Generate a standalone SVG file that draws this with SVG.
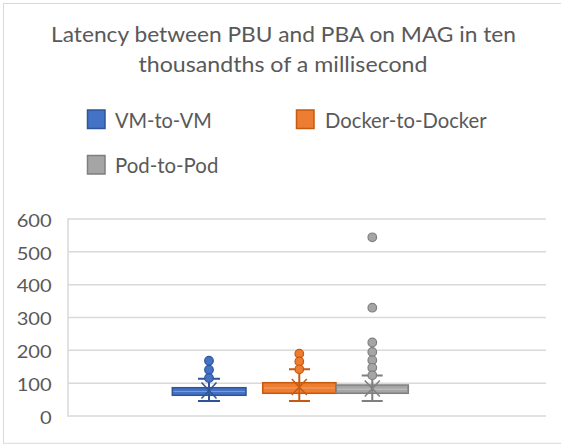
<svg xmlns="http://www.w3.org/2000/svg" width="561" height="444" viewBox="0 0 561 444">
  <style>
    text { font-family: Lato, "Liberation Sans", sans-serif; fill: #595959; }
    .title { font-size: 20.5px; text-anchor: middle; }
    .legend { font-size: 20.5px; }
    .tick { font-size: 16.5px; text-anchor: end; }
    .frame { fill: #FFFFFF; stroke: #D9D9D9; stroke-width: 1; }
    .grid { stroke: #D9D9D9; stroke-width: 1.5; fill: none; }
    .blue { fill: #4472C4; stroke: #2F5597; }
    .orange { fill: #ED7D31; stroke: #C55A11; }
    .gray { fill: #A5A5A5; stroke: #7F7F7F; }
    .swatch { stroke-width: 1.5; }
    .box { stroke-width: 1.5; }
    .whisker { fill: none; stroke-width: 2; }
    .mean { fill: none; stroke-width: 1.5; }
    .outlier { stroke-width: 1.2; }
    .med-blue { stroke: #7A9BD6; stroke-width: 1; }
    .med-orange { stroke: #F4A26B; stroke-width: 1; }
    .med-gray { stroke: #C4C4C4; stroke-width: 1; }
  </style>

  <!-- chart area -->
  <rect class="frame" x="3.5" y="3.5" width="620" height="439.8"/>

  <!-- title -->
  <g id="title">
    <text class="title" x="283.5" y="42.3" textLength="465" lengthAdjust="spacingAndGlyphs">Latency between PBU and PBA on MAG in ten</text>
    <text class="title" x="283" y="71.7" textLength="289" lengthAdjust="spacingAndGlyphs">thousandths of a millisecond</text>
  </g>

  <!-- legend -->
  <g id="legend-vm">
    <rect class="swatch blue" x="87.5" y="110" width="17.5" height="18.5"/>
    <text class="legend" x="115" y="128.3" textLength="96.7" lengthAdjust="spacingAndGlyphs">VM-to-VM</text>
  </g>
  <g id="legend-docker">
    <rect class="swatch orange" x="296.5" y="110" width="17.5" height="18.5"/>
    <text class="legend" x="325" y="128.3" textLength="161.6" lengthAdjust="spacingAndGlyphs">Docker-to-Docker</text>
  </g>
  <g id="legend-pod">
    <rect class="swatch gray" x="87.5" y="155.5" width="17.5" height="18.5"/>
    <text class="legend" x="115" y="172.7" textLength="103.3" lengthAdjust="spacingAndGlyphs">Pod-to-Pod</text>
  </g>

  <!-- value axis gridlines -->
  <g id="gridlines">
    <line class="grid" x1="68" y1="219" x2="546" y2="219"/>
    <line class="grid" x1="68" y1="251.8" x2="546" y2="251.8"/>
    <line class="grid" x1="68" y1="284.7" x2="546" y2="284.7"/>
    <line class="grid" x1="68" y1="317.5" x2="546" y2="317.5"/>
    <line class="grid" x1="68" y1="350.3" x2="546" y2="350.3"/>
    <line class="grid" x1="68" y1="383.2" x2="546" y2="383.2"/>
    <line class="grid" x1="68" y1="416" x2="546" y2="416"/>
    <line class="grid" x1="68" y1="218.3" x2="68" y2="416.7"/>
  </g>

  <!-- value axis labels -->
  <g id="axis-labels">
    <text class="tick" x="51.7" y="226.7" textLength="35" lengthAdjust="spacingAndGlyphs">600</text>
    <text class="tick" x="51.7" y="259.5" textLength="35" lengthAdjust="spacingAndGlyphs">500</text>
    <text class="tick" x="51.7" y="292.3" textLength="35" lengthAdjust="spacingAndGlyphs">400</text>
    <text class="tick" x="51.7" y="325.1" textLength="35" lengthAdjust="spacingAndGlyphs">300</text>
    <text class="tick" x="51.7" y="357.9" textLength="35" lengthAdjust="spacingAndGlyphs">200</text>
    <text class="tick" x="51.7" y="390.7" textLength="35" lengthAdjust="spacingAndGlyphs">100</text>
    <text class="tick" x="51.7" y="423.5" textLength="11.7" lengthAdjust="spacingAndGlyphs">0</text>
  </g>

  <!-- VM-to-VM series -->
  <g id="box-vm" class="blue">
    <path class="whisker" d="M209 378.7V387.7M209 395.3V401M198 378.7H220M198 401H220"/>
    <rect class="box" x="172.3" y="387.7" width="73.7" height="7.6"/>
    <line class="med-blue" x1="173.5" y1="391.5" x2="244.8" y2="391.5"/>
    <path class="mean" d="M201.5 382.5L216.5 398.5M216.5 382.5L201.5 398.5M209 387.7V395.3"/>
    <circle class="outlier" cx="209" cy="360.7" r="4.3"/>
    <circle class="outlier" cx="209" cy="369.7" r="4.3"/>
    <circle class="outlier" cx="209" cy="378" r="4.3"/>
  </g>

  <!-- Docker-to-Docker series -->
  <g id="box-docker" class="orange">
    <path class="whisker" d="M299.3 369.3V382.7M299.3 393.3V401M289 369.3H310M289 401H310"/>
    <rect class="box" x="262.7" y="382.7" width="73.3" height="10.6"/>
    <line class="med-orange" x1="264" y1="388" x2="334.8" y2="388"/>
    <path class="mean" d="M291.8 379L306.8 395M306.8 379L291.8 395M299.3 382.7V393.3"/>
    <circle class="outlier" cx="299.3" cy="353.7" r="4.3"/>
    <circle class="outlier" cx="299.3" cy="361.5" r="4.3"/>
    <circle class="outlier" cx="299.3" cy="369.3" r="4.3"/>
  </g>

  <!-- Pod-to-Pod series -->
  <g id="box-pod" class="gray">
    <path class="whisker" d="M372.3 375.5V385M372.3 393.3V401M361.7 375.5H382.7M361.7 401H382.7"/>
    <rect class="box" x="336" y="385" width="72.3" height="8.3"/>
    <line class="med-gray" x1="337.2" y1="389.2" x2="407" y2="389.2"/>
    <path class="mean" d="M364.8 380.5L379.8 396.5M379.8 380.5L364.8 396.5M372.3 385V393.3"/>
    <circle class="outlier" cx="372.3" cy="237.3" r="4.3"/>
    <circle class="outlier" cx="372.3" cy="307.7" r="4.3"/>
    <circle class="outlier" cx="372.3" cy="342.5" r="4.3"/>
    <circle class="outlier" cx="372.3" cy="352" r="4.3"/>
    <circle class="outlier" cx="372.3" cy="360.2" r="4.3"/>
    <circle class="outlier" cx="372.3" cy="367.8" r="4.3"/>
    <circle class="outlier" cx="372.3" cy="375.2" r="4.3"/>
  </g>
</svg>
